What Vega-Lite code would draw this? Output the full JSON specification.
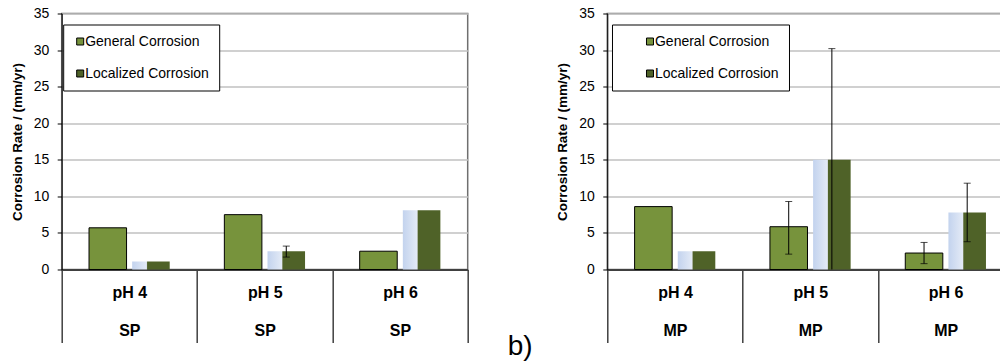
{
  "$schema": "https://vega.github.io/schema/vega-lite/v6.json",
  "padding": {"left": 8.7, "top": 5.5, "right": 0, "bottom": 0},
  "spacing": 36.6,
  "resolve": {"scale": {"color": "independent"}, "legend": {"color": "independent"}},
  "data": {"values": [
    {"panel": "SP", "ph": "pH 4", "type": "General Corrosion", "value": 5.7},
    {"panel": "SP", "ph": "pH 4", "type": "Localized Corrosion", "value": 1.1},
    {"panel": "SP", "ph": "pH 5", "type": "General Corrosion", "value": 7.5},
    {"panel": "SP", "ph": "pH 5", "type": "Localized Corrosion", "value": 2.5, "lo": 1.7, "hi": 3.2},
    {"panel": "SP", "ph": "pH 6", "type": "General Corrosion", "value": 2.5},
    {"panel": "SP", "ph": "pH 6", "type": "Localized Corrosion", "value": 8.1},
    {"panel": "MP", "ph": "pH 4", "type": "General Corrosion", "value": 8.6},
    {"panel": "MP", "ph": "pH 4", "type": "Localized Corrosion", "value": 2.5},
    {"panel": "MP", "ph": "pH 5", "type": "General Corrosion", "value": 5.85, "lo": 2.1, "hi": 9.3},
    {"panel": "MP", "ph": "pH 5", "type": "Localized Corrosion", "value": 15.0, "lo": 0, "hi": 30.2},
    {"panel": "MP", "ph": "pH 6", "type": "General Corrosion", "value": 2.25, "lo": 0.8, "hi": 3.7},
    {"panel": "MP", "ph": "pH 6", "type": "Localized Corrosion", "value": 7.8, "lo": 3.8, "hi": 11.8}
  ]},
  "config": {
    "font": "Liberation Sans",
    "view": {"stroke": "#6f6f6f", "strokeWidth": 1.5},
    "legend": {
      "title": null, "orient": "none", "labelFont": "Liberation Sans", "labelFontSize": 14, "labelColor": "black",
      "padding": 10, "rowPadding": 18, "strokeColor": "black", "fillColor": "white", "strokeWidth": 1,
      "symbolType": "square", "symbolSize": 49, "symbolStrokeWidth": 1, "labelOffset": -2, "labelLimit": 300
    }
  },
  "hconcat": [
    {
      "width": 406, "height": 256,
      "resolve": {"axis": {"y": "independent"}},
      "transform": [{"filter": "datum.panel === 'SP'"}],
      "encoding": {
        "x": {"field": "ph", "type": "nominal", "scale": {"paddingInner": 0, "paddingOuter": 0},
          "axis": {"title": null, "labelAngle": 0, "labelFontSize": 16, "labelFontWeight": "bold", "labelColor": "black",
            "labelExpr": "datum.label ? [datum.label, 'SP'] : ''", "labelLineHeight": 38, "labelBaseline": "top", "labelPadding": -58, "labelOverlap": false,
            "tickBand": "extent", "tickSize": 73, "tickColor": "#404040", "tickWidth": 1.5,
            "domainColor": "#404040", "domainWidth": 2, "grid": false}},
        "xOffset": {"field": "type", "type": "nominal", "scale": {"domain": ["General Corrosion", "Localized Corrosion"], "paddingInner": 0.13, "paddingOuter": 0.633}}
      },
      "layer": [
        {
          "transform": [{"filter": "datum.type === 'General Corrosion'"}],
          "mark": {"type": "bar", "stroke": "black", "strokeWidth": 1, "opacity": 1},
          "encoding": {
            "y": {"field": "value", "type": "quantitative", "scale": {"domain": [0, 35], "nice": false},
              "axis": {"title": "Corrosion Rate / (mm/yr)", "titleFontSize": 13.5, "titleFontWeight": "bold", "titleColor": "black", "titlePadding": 9,
                "values": [0, 5, 10, 15, 20, 25, 30, 35], "labelFontSize": 14, "labelColor": "black", "labelPadding": 8.5,
                "tickSize": 4.5, "tickColor": "black", "domainColor": "black", "domainWidth": 1, "gridColor": "#c0c0c0", "gridWidth": 1.5}},
            "color": {"field": "type", "type": "nominal",
              "scale": {"domain": ["General Corrosion", "Localized Corrosion"], "range": ["#77933c", "#4f6228"]},
              "legend": {"legendX": 1.5, "legendY": 11, "symbolOffset": 0,
                "encode": {"symbols": {
                  "fill": {"condition": {"test": "datum.value === 'Localized Corrosion'", "value": {"gradient": "linear", "x1": 0, "x2": 1, "y1": 0, "y2": 0, "stops": [{"offset": 0, "color": "#c6d5ee"}, {"offset": 0.45, "color": "#dfe7f4"}, {"offset": 0.5, "color": "#4f6228"}, {"offset": 1, "color": "#4f6228"}]}}, "value": "#77933c"},
                  "stroke": {"condition": {"test": "datum.value === 'Localized Corrosion'", "value": "transparent"}, "value": "black"}}}}}
          }
        },
        {
          "transform": [{"filter": "datum.type === 'Localized Corrosion'"}],
          "mark": {"type": "bar", "strokeWidth": 0, "fill": {"gradient": "linear", "x1": 0, "x2": 1, "y1": 0, "y2": 0, "stops": [{"offset": 0, "color": "#c3d3ee"}, {"offset": 0.38, "color": "#e3eaf6"}, {"offset": 0.395, "color": "#9aa48a"}, {"offset": 0.41, "color": "#4f6228"}, {"offset": 1, "color": "#4f6228"}]}},
          "encoding": {"y": {"field": "value", "type": "quantitative", "axis": null}}
        },
        {
          "transform": [{"filter": "isValid(datum.hi)"}],
          "mark": {"type": "rule", "color": "black", "strokeWidth": 1},
          "encoding": {"y": {"field": "lo", "type": "quantitative", "axis": null}, "y2": {"field": "hi"}}
        },
        {
          "transform": [{"filter": "isValid(datum.hi)"}],
          "mark": {"type": "tick", "color": "black", "thickness": 1, "size": 7, "orient": "horizontal"},
          "encoding": {"y": {"field": "hi", "type": "quantitative", "axis": null}}
        },
        {
          "transform": [{"filter": "isValid(datum.lo) && datum.lo > 0"}],
          "mark": {"type": "tick", "color": "black", "thickness": 1, "size": 7, "orient": "horizontal"},
          "encoding": {"y": {"field": "lo", "type": "quantitative", "axis": null}}
        }
      ]
    },
    {
      "width": 406, "height": 256,
      "resolve": {"axis": {"y": "independent"}},
      "title": {"text": "b)", "orient": "bottom", "anchor": "start", "frame": "group", "fontSize": 28, "fontWeight": "normal", "color": "black", "dx": -99.5, "offset": -10},
      "transform": [{"filter": "datum.panel === 'MP'"}],
      "encoding": {
        "x": {"field": "ph", "type": "nominal", "scale": {"paddingInner": 0, "paddingOuter": 0},
          "axis": {"title": null, "labelAngle": 0, "labelFontSize": 16, "labelFontWeight": "bold", "labelColor": "black",
            "labelExpr": "datum.label ? [datum.label, 'MP'] : ''", "labelLineHeight": 38, "labelBaseline": "top", "labelPadding": -58, "labelOverlap": false,
            "tickBand": "extent", "tickSize": 73, "tickColor": "#404040", "tickWidth": 1.5,
            "domainColor": "#404040", "domainWidth": 2, "grid": false}},
        "xOffset": {"field": "type", "type": "nominal", "scale": {"domain": ["General Corrosion", "Localized Corrosion"], "paddingInner": 0.13, "paddingOuter": 0.633}}
      },
      "layer": [
        {
          "transform": [{"filter": "datum.type === 'General Corrosion'"}],
          "mark": {"type": "bar", "stroke": "black", "strokeWidth": 1, "opacity": 1},
          "encoding": {
            "y": {"field": "value", "type": "quantitative", "scale": {"domain": [0, 35], "nice": false},
              "axis": {"title": "Corrosion Rate / (mm/yr)", "titleFontSize": 13.5, "titleFontWeight": "bold", "titleColor": "black", "titlePadding": 9,
                "values": [0, 5, 10, 15, 20, 25, 30, 35], "labelFontSize": 14, "labelColor": "black", "labelPadding": 8.5,
                "tickSize": 4.5, "tickColor": "black", "domainColor": "black", "domainWidth": 1, "gridColor": "#c0c0c0", "gridWidth": 1.5}},
            "color": {"field": "type", "type": "nominal",
              "scale": {"domain": ["General Corrosion", "Localized Corrosion"], "range": ["#77933c", "#4f6228"]},
              "legend": {"legendX": 4.7, "legendY": 11, "symbolOffset": 21,
                "encode": {"symbols": {
                  "fill": {"condition": {"test": "datum.value === 'Localized Corrosion'", "value": {"gradient": "linear", "x1": 0, "x2": 1, "y1": 0, "y2": 0, "stops": [{"offset": 0, "color": "#c6d5ee"}, {"offset": 0.45, "color": "#dfe7f4"}, {"offset": 0.5, "color": "#4f6228"}, {"offset": 1, "color": "#4f6228"}]}}, "value": "#77933c"},
                  "stroke": {"condition": {"test": "datum.value === 'Localized Corrosion'", "value": "transparent"}, "value": "black"}}}}}
          }
        },
        {
          "transform": [{"filter": "datum.type === 'Localized Corrosion'"}],
          "mark": {"type": "bar", "strokeWidth": 0, "fill": {"gradient": "linear", "x1": 0, "x2": 1, "y1": 0, "y2": 0, "stops": [{"offset": 0, "color": "#c3d3ee"}, {"offset": 0.38, "color": "#e3eaf6"}, {"offset": 0.395, "color": "#9aa48a"}, {"offset": 0.41, "color": "#4f6228"}, {"offset": 1, "color": "#4f6228"}]}},
          "encoding": {"y": {"field": "value", "type": "quantitative", "axis": null}}
        },
        {
          "transform": [{"filter": "isValid(datum.hi)"}],
          "mark": {"type": "rule", "color": "black", "strokeWidth": 1},
          "encoding": {"y": {"field": "lo", "type": "quantitative", "axis": null}, "y2": {"field": "hi"}}
        },
        {
          "transform": [{"filter": "isValid(datum.hi)"}],
          "mark": {"type": "tick", "color": "black", "thickness": 1, "size": 7, "orient": "horizontal"},
          "encoding": {"y": {"field": "hi", "type": "quantitative", "axis": null}}
        },
        {
          "transform": [{"filter": "isValid(datum.lo) && datum.lo > 0"}],
          "mark": {"type": "tick", "color": "black", "thickness": 1, "size": 7, "orient": "horizontal"},
          "encoding": {"y": {"field": "lo", "type": "quantitative", "axis": null}}
        }
      ]
    }
  ]
}
